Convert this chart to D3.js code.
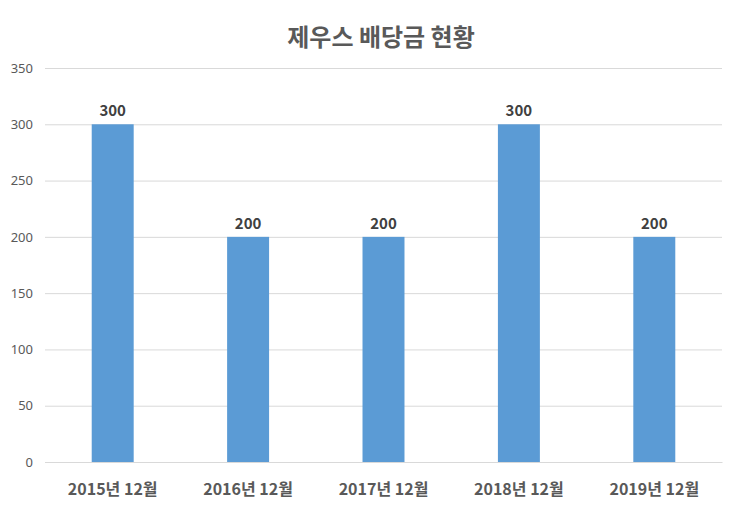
<!DOCTYPE html>
<html>
<head>
  <meta charset="utf-8">
  <script src="https://d3js.org/d3.v7.min.js"></script>
  <style>
    body { margin: 0; background: #fff; }
    svg text { font-family: "Noto Sans CJK KR", "Noto Sans", sans-serif; }
  </style>
</head>
<body>
  <div id="chart"></div>
  <script>
  const categories = ["2015년 12월", "2016년 12월", "2017년 12월", "2018년 12월", "2019년 12월"];
  const values = [300, 200, 200, 300, 200];
  const yTicks = [0, 50, 100, 150, 200, 250, 300, 350];
  const title = "제우스 배당금 현황";

  const W = 740, H = 516;
  const margin = { top: 68, right: 18, bottom: 54, left: 45 };
  const width = W - margin.left - margin.right;
  const height = H - margin.top - margin.bottom;

  const svg = d3.select("#chart")
    .append("svg")
    .attr("width", W)
    .attr("height", H);

  svg.append("text")
    .attr("x", W / 2 + 11)
    .attr("y", 46)
    .attr("text-anchor", "middle")
    .attr("font-size", 24)
    .attr("font-weight", "bold")
    .attr("fill", "#595959")
    .text(title);

  const g = svg.append("g")
    .attr("transform", `translate(${margin.left},${margin.top})`);

  const x = d3.scaleBand()
    .domain(categories)
    .range([0, width])
    .paddingInner(0.69)
    .paddingOuter(0.345);

  const y = d3.scaleLinear()
    .domain([0, 350])
    .range([height, 0]);

  // gridlines
  g.append("g")
    .call(d3.axisLeft(y).tickValues(yTicks).tickSize(-width).tickFormat(""))
    .call(s => s.select(".domain").remove())
    .call(s => s.selectAll("line").attr("stroke", "#d9d9d9"));

  // y labels
  g.append("g")
    .call(d3.axisLeft(y).tickValues(yTicks).tickSize(0).tickPadding(12))
    .call(s => s.select(".domain").remove())
    .call(s => s.selectAll("text")
      .attr("font-size", 13)
      .attr("fill", "#595959")
      .style("font-family", "'Noto Sans', sans-serif"));

  g.selectAll("rect.bar")
    .data(values)
    .enter()
    .append("rect")
    .attr("class", "bar")
    .attr("x", (d, i) => x(categories[i]))
    .attr("y", d => y(d))
    .attr("width", x.bandwidth())
    .attr("height", d => height - y(d))
    .attr("fill", "#5b9bd5");

  g.selectAll("text.val")
    .data(values)
    .enter()
    .append("text")
    .attr("class", "val")
    .attr("x", (d, i) => x(categories[i]) + x.bandwidth() / 2)
    .attr("y", d => y(d) - 8)
    .attr("text-anchor", "middle")
    .attr("font-size", 15)
    .attr("font-weight", "bold")
    .attr("fill", "#404040")
    .text(d => d);

  // x axis
  g.append("g")
    .attr("transform", `translate(0,${height})`)
    .call(d3.axisBottom(x).tickSize(0).tickPadding(22))
    .call(s => s.select(".domain").attr("stroke", "#d9d9d9"))
    .call(s => s.selectAll("text")
      .attr("font-size", 16)
      .attr("font-weight", "bold")
      .attr("fill", "#595959"));
  </script>
</body>
</html>
